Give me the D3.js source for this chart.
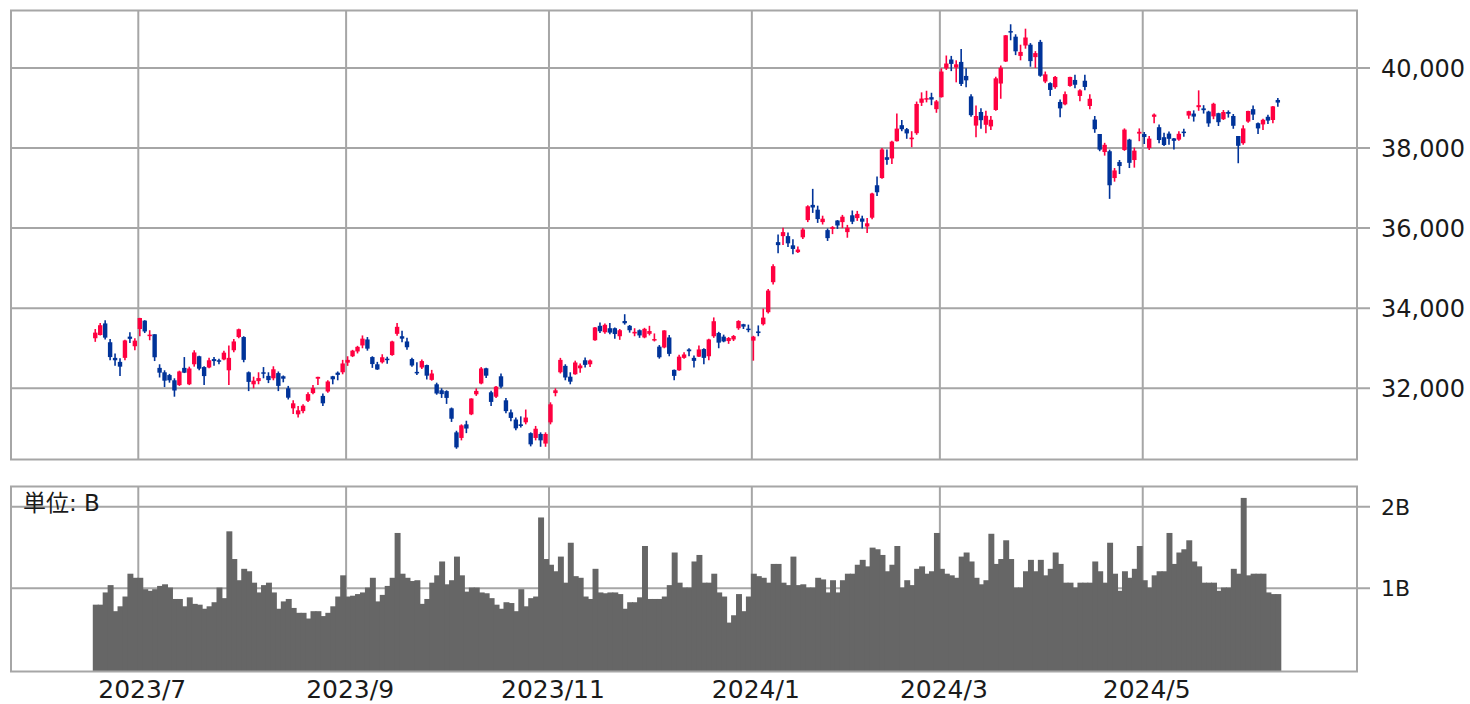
<!DOCTYPE html>
<html><head><meta charset="utf-8">
<script src="https://cdn.jsdelivr.net/npm/d3@7"></script>
<style>html,body{margin:0;padding:0;background:#fff;}svg{display:block}</style>
</head><body>
<svg id="chart" width="1470" height="704"></svg>
<script>
const dates = [
"2023-06-20","2023-06-21","2023-06-22","2023-06-23","2023-06-26","2023-06-27","2023-06-28","2023-06-29","2023-06-30",
"2023-07-03","2023-07-04","2023-07-05","2023-07-06","2023-07-07","2023-07-10","2023-07-11","2023-07-12","2023-07-13","2023-07-14","2023-07-18","2023-07-19","2023-07-20","2023-07-21","2023-07-24","2023-07-25","2023-07-26","2023-07-27","2023-07-28","2023-07-31",
"2023-08-01","2023-08-02","2023-08-03","2023-08-04","2023-08-07","2023-08-08","2023-08-09","2023-08-10","2023-08-14","2023-08-15","2023-08-16","2023-08-17","2023-08-18","2023-08-21","2023-08-22","2023-08-23","2023-08-24","2023-08-25","2023-08-28","2023-08-29","2023-08-30","2023-08-31",
"2023-09-01","2023-09-04","2023-09-05","2023-09-06","2023-09-07","2023-09-08","2023-09-11","2023-09-12","2023-09-13","2023-09-14","2023-09-15","2023-09-19","2023-09-20","2023-09-21","2023-09-22","2023-09-25","2023-09-26","2023-09-27","2023-09-28","2023-09-29",
"2023-10-02","2023-10-03","2023-10-04","2023-10-05","2023-10-06","2023-10-10","2023-10-11","2023-10-12","2023-10-13","2023-10-16","2023-10-17","2023-10-18","2023-10-19","2023-10-20","2023-10-23","2023-10-24","2023-10-25","2023-10-26","2023-10-27","2023-10-30","2023-10-31",
"2023-11-01","2023-11-02","2023-11-06","2023-11-07","2023-11-08","2023-11-09","2023-11-10","2023-11-13","2023-11-14","2023-11-15","2023-11-16","2023-11-17","2023-11-20","2023-11-21","2023-11-22","2023-11-24","2023-11-27","2023-11-28","2023-11-29","2023-11-30",
"2023-12-01","2023-12-04","2023-12-05","2023-12-06","2023-12-07","2023-12-08","2023-12-11","2023-12-12","2023-12-13","2023-12-14","2023-12-15","2023-12-18","2023-12-19","2023-12-20","2023-12-21","2023-12-22","2023-12-25","2023-12-26","2023-12-27","2023-12-28","2023-12-29",
"2024-01-04","2024-01-05","2024-01-09","2024-01-10","2024-01-11","2024-01-12","2024-01-15","2024-01-16","2024-01-17","2024-01-18","2024-01-19","2024-01-22","2024-01-23","2024-01-24","2024-01-25","2024-01-26","2024-01-29","2024-01-30","2024-01-31",
"2024-02-01","2024-02-02","2024-02-05","2024-02-06","2024-02-07","2024-02-08","2024-02-09","2024-02-13","2024-02-14","2024-02-15","2024-02-16","2024-02-19","2024-02-20","2024-02-21","2024-02-22","2024-02-26","2024-02-27","2024-02-28","2024-02-29",
"2024-03-01","2024-03-04","2024-03-05","2024-03-06","2024-03-07","2024-03-08","2024-03-11","2024-03-12","2024-03-13","2024-03-14","2024-03-15","2024-03-18","2024-03-19","2024-03-21","2024-03-22","2024-03-25","2024-03-26","2024-03-27","2024-03-28","2024-03-29",
"2024-04-01","2024-04-02","2024-04-03","2024-04-04","2024-04-05","2024-04-08","2024-04-09","2024-04-10","2024-04-11","2024-04-12","2024-04-15","2024-04-16","2024-04-17","2024-04-18","2024-04-19","2024-04-22","2024-04-23","2024-04-24","2024-04-25","2024-04-26","2024-04-30",
"2024-05-01","2024-05-02","2024-05-07","2024-05-08","2024-05-09","2024-05-10","2024-05-13","2024-05-14","2024-05-15","2024-05-16","2024-05-17","2024-05-20","2024-05-21","2024-05-22","2024-05-23","2024-05-24","2024-05-27","2024-05-28","2024-05-29","2024-05-30","2024-05-31",
"2024-06-03","2024-06-04","2024-06-05","2024-06-06","2024-06-07","2024-06-10","2024-06-11"];

const open = [
33250,33330,33620,33150,32760,32660,32760,33290,33050,
33480,33690,33310,33350,32510,32400,32330,32200,32080,32510,32100,32600,32800,32530,32520,32730,32700,32720,32450,32950,
33280,33280,32400,32100,32180,32400,32310,32250,32380,32300,32000,31500,31350,31430,31690,31880,32240,31810,31920,32300,32390,32400,
32640,32800,32920,33070,33220,32780,32600,32650,32740,32830,33360,33300,33170,32730,32410,32520,32580,32210,32100,31950,
31930,31500,30900,30760,31100,31350,31850,32120,32500,31900,31790,32300,31700,31400,31220,31100,31150,30880,30760,30860,30620,
31150,31880,32400,32560,32290,32350,32500,32700,32600,33200,33560,33400,33500,33500,33300,33680,33560,33370,33450,33270,
33360,33200,33040,33020,33270,32460,32450,32760,32970,32760,32790,32980,32800,33300,33380,33290,33180,33220,33500,33600,33490,
33190,33420,33600,33900,34650,35650,35800,35800,35570,35400,35770,36200,36580,36460,36150,35950,35980,36190,36150,
35900,36320,36250,36240,36040,36260,37070,37250,37770,37740,38170,38570,38470,38220,38370,39130,39240,39270,38970,
39270,39990,40210,40010,40150,39800,39290,38560,38900,38580,38540,38950,39610,40160,40920,40780,40300,40560,40580,40270,
40650,39660,39620,39520,39150,39090,39550,39700,39300,39680,39050,38710,38350,37900,37920,37250,37650,37950,38210,37700,38360,
38350,38000,38780,38520,38270,38360,38240,38210,38410,38810,38860,39020,38990,38910,38790,38870,38720,38900,38800,38300,38120,
38660,38970,38620,38590,38780,38700,39200];

const high = [
33480,33630,33700,33230,32870,32750,33210,33400,33250,
33760,33700,33450,33350,32600,32450,32360,32250,32440,32780,32540,32950,32810,32550,32760,32780,32740,32940,33070,33230,
33490,33300,32420,32290,32400,32530,32400,32550,32420,32320,32060,31700,31560,31600,31900,32080,32290,31870,32200,32310,32420,32710,
32800,32960,33060,33320,33280,32800,32660,32850,32790,33190,33630,33440,33260,32760,32650,32720,32590,32460,32140,32000,
31950,31520,30940,31100,31190,31750,32000,32530,32510,31940,32060,32370,31760,31470,31270,31300,31470,30900,31060,30900,30900,
31650,32000,32760,32600,32400,32690,32620,32770,32720,33530,33640,33620,33630,33520,33480,33850,33580,33500,33470,33510,
33560,33370,33080,33450,33330,32470,32840,32900,33000,32820,33070,33000,33240,33770,33410,33340,33280,33330,33700,33610,33590,
33310,33570,33990,34480,35100,35840,36010,35890,35720,35540,36000,36570,36980,36560,36310,35990,36050,36200,36330,
36080,36440,36430,36310,36250,36880,37290,38000,37960,38180,38860,38700,38500,38420,39160,39390,39430,39380,39200,
39990,40310,40300,40190,40470,39990,39340,39060,38990,38930,38800,39780,40060,40820,41090,40840,40580,40980,40620,40420,
40700,39910,39640,39800,39210,39410,39780,39830,39470,39830,39340,38800,38350,38130,37960,37500,37700,38490,38230,38010,38490,
38400,38300,38860,38590,38380,38410,38250,38420,38480,38930,38940,39440,39070,38930,39130,38880,38950,38940,38850,38300,38570,
38930,39060,38640,38730,38830,39050,39250];

const low = [
33160,33320,33220,32700,32560,32310,32700,33130,32950,
33300,33380,33200,32680,32270,32030,32140,31790,32060,32380,32080,32540,32450,32080,32500,32560,32600,32700,32080,32900,
33250,32650,31930,32000,32100,32250,32130,32200,31930,32150,31720,31360,31270,31380,31660,31850,32080,31560,31890,32100,32200,32350,
32560,32780,32870,33000,32940,32510,32460,32620,32610,32810,33310,33150,32960,32540,32330,32480,32220,32190,31840,31760,
31610,31160,30490,30700,30880,31330,31810,32100,32260,31560,31760,32000,31380,31180,30950,31020,31100,30550,30700,30540,30540,
31100,31800,32370,32200,32100,32340,32390,32520,32530,33190,33380,33360,33350,33240,33210,33590,33390,33300,33260,33250,
33320,33170,32740,33000,32800,32200,32440,32740,32800,32520,32780,32600,32700,33260,33000,33150,33110,33180,33460,33480,33400,
32690,33300,33570,33870,34590,35370,35580,35530,35350,35380,35730,36150,36380,36130,36090,35680,35850,35980,36000,
35760,36100,36180,35990,35880,36220,36800,37230,37580,37600,38160,38420,38230,38020,38330,39050,39140,39070,38880,
39260,39950,39920,39640,39550,39520,38780,38270,38480,38370,38450,38930,39230,40150,40690,40320,40190,40480,40030,40000,
39780,39620,39300,39480,38770,39070,39530,39490,39170,39440,38970,38380,37920,37810,36730,37160,37350,37930,37500,37510,38170,
38100,37950,38620,38120,38050,38080,37960,38180,38280,38730,38660,38930,38860,38530,38720,38550,38700,38760,38480,37620,38080,
38630,38700,38350,38450,38600,38620,39030];

const close = [
33390,33575,33265,32780,32700,32540,33195,33235,33190,
33755,33420,33340,32775,32390,32190,32200,31945,32420,32390,32495,32895,32490,32305,32700,32680,32670,32890,32760,33170,
33475,32710,32160,32190,32255,32375,32205,32475,32060,32240,31765,31625,31450,31565,31855,32010,32285,31625,32170,32225,32335,32620,
32710,32940,33035,33240,32990,32605,32470,32775,32705,33170,33535,33240,33025,32570,32400,32680,32315,32370,31870,31855,
31760,31240,30525,31075,30995,31745,31935,32495,32315,31660,32040,32040,31430,31260,31000,31060,31270,30600,30990,30700,30860,
31600,31950,32710,32270,32165,32645,32570,32585,32695,33520,33425,33585,33390,33355,33450,33625,33450,33410,33320,33485,
33430,33230,32775,33445,32860,32310,32790,32845,32925,32685,32970,32760,33220,33675,33140,33170,33255,33305,33680,33540,33465,
33290,33380,33765,34440,35050,35575,35900,35620,35480,35465,35965,36545,36515,36225,36235,35750,36025,36065,36285,
36010,36160,36355,36160,36120,36865,36895,37965,37705,38160,38485,38470,38365,38260,39100,39235,39245,39210,39165,
39910,40110,40100,40090,39600,39690,38820,38800,38695,38805,38705,39740,40005,40815,40890,40415,40400,40760,40170,40370,
39805,39840,39450,39775,38990,39345,39775,39580,39440,39525,39230,38470,37960,38080,37070,37440,37550,38460,37630,37935,38405,
38275,38235,38835,38200,38075,38230,38180,38355,38385,38920,38785,39070,38945,38615,39105,38645,38900,38855,38555,38055,38490,
38925,38835,38490,38705,38685,39040,39135];

// trading volume, billions of shares
const volume = [
0.80,0.80,0.95,1.04,0.72,0.78,0.90,1.18,1.13,
1.13,0.99,0.97,0.99,1.03,1.05,1.01,0.87,0.87,0.78,0.89,0.81,0.80,0.75,0.78,0.83,1.01,0.88,1.70,1.36,
1.10,1.24,1.21,1.07,0.95,1.04,1.07,0.95,0.75,0.84,0.87,0.76,0.70,0.70,0.63,0.72,0.72,0.66,0.70,0.78,0.90,1.16,
0.90,0.91,0.93,0.95,1.01,1.13,0.84,0.92,1.03,1.13,1.68,1.18,1.13,1.09,1.10,0.81,0.87,1.07,1.16,1.33,
1.05,1.10,1.39,1.16,0.96,1.01,1.01,0.95,0.94,0.88,0.80,0.75,0.83,0.82,0.72,0.99,0.78,0.88,0.90,1.87,1.36,
1.29,1.21,1.39,1.07,1.56,1.15,1.13,0.90,0.87,1.24,0.95,0.94,0.95,0.95,0.93,0.75,0.83,0.83,0.89,1.52,
0.87,0.87,0.87,0.90,1.04,1.44,1.07,1.01,1.01,1.33,1.41,1.07,1.07,1.18,0.95,0.90,0.58,0.67,0.93,0.72,0.90,
1.18,1.15,1.13,1.07,1.30,1.30,1.07,1.04,1.39,1.04,1.05,1.01,1.01,1.13,1.11,0.95,1.10,0.95,1.10,
1.18,1.18,1.29,1.35,1.27,1.50,1.48,1.41,1.21,1.29,1.52,1.01,1.10,1.04,1.24,1.27,1.18,1.21,1.68,
1.24,1.18,1.16,1.13,1.39,1.44,1.33,1.13,1.05,1.10,1.67,1.30,1.36,1.59,1.36,1.01,1.01,1.21,1.35,1.21,
1.35,1.16,1.24,1.44,1.30,1.07,1.07,1.01,1.07,1.07,1.07,1.33,1.21,1.07,1.56,1.18,0.97,1.21,1.13,1.24,1.52,
1.10,1.01,1.16,1.21,1.21,1.68,1.30,1.44,1.48,1.59,1.33,1.27,1.07,1.07,1.07,0.97,1.01,1.01,1.24,1.18,2.11,
1.16,1.18,1.18,1.18,0.95,0.93,0.93];

const priceTicks = [32000, 34000, 36000, 38000, 40000];
const volumeTicks = [1, 2];
const volumeTickLabels = ["1B", "2B"];
const monthTickDates = ["2023-07-03","2023-09-01","2023-11-01","2024-01-04","2024-03-01","2024-05-01"];
const monthTickLabels = ["2023/7","2023/9","2023/11","2024/1","2024/3","2024/5"];
const volumeUnitLabel = "単位: B";

const L = 11, R = 1357;
const mainTop = 10.5, mainBottom = 459.5, volTop = 486.5, volBottom = 671.5;
const gridColor = "#a6a6a6", upColor = "#ff0040", downColor = "#003399", volColor = "#666666", textColor = "#1a1a1a";
const font = "'DejaVu Sans', 'Noto Sans CJK JP', sans-serif";

const svg = d3.select("#chart");
const idx = d3.range(dates.length);
const x = d3.scaleLinear().domain([-17.03, 255.0]).range([L, R]);
const step = x(1) - x(0);
const y = d3.scaleLinear().domain([30222, 41434]).range([mainBottom, mainTop]);
const yv = d3.scaleLinear().domain([-0.02, 2.25]).range([volBottom, volTop]);
const monthIdx = monthTickDates.map(d => dates.indexOf(d));

// grids
const g = svg.append("g");
g.selectAll("line.py").data(priceTicks).join("line")
  .attr("x1", L).attr("x2", R + 13).attr("y1", d => y(d)).attr("y2", d => y(d))
  .attr("stroke", gridColor).attr("stroke-width", 2);
g.selectAll("line.vy").data(volumeTicks).join("line").attr("class","vy")
  .attr("x1", L).attr("x2", R + 13).attr("y1", d => yv(d)).attr("y2", d => yv(d))
  .attr("stroke", gridColor).attr("stroke-width", 2);
[[mainTop, mainBottom], [volTop, volBottom]].forEach(([t, b]) => {
  g.append("g").selectAll("line").data(monthIdx).join("line")
    .attr("x1", d => x(d) - 1.5).attr("x2", d => x(d) - 1.5)
    .attr("y1", t).attr("y2", b)
    .attr("stroke", gridColor).attr("stroke-width", 2);
});

// volume bars
svg.append("g").selectAll("rect").data(idx).join("rect")
  .attr("x", i => x(i) - step / 2)
  .attr("width", step + 1)
  .attr("y", i => yv(volume[i]))
  .attr("height", i => yv(-0.02) - yv(volume[i]))
  .attr("fill", volColor);

// candles
const cg = svg.append("g");
const col = i => close[i] >= open[i] ? upColor : downColor;
cg.selectAll("line").data(idx).join("line")
  .attr("x1", i => x(i)).attr("x2", i => x(i))
  .attr("y1", i => y(high[i])).attr("y2", i => y(low[i]))
  .attr("stroke", col).attr("stroke-width", 1.6);
cg.selectAll("rect").data(idx).join("rect")
  .attr("x", i => x(i) - 2.2).attr("width", 4.4)
  .attr("y", i => y(Math.max(open[i], close[i])))
  .attr("height", i => Math.max(1.5, Math.abs(y(open[i]) - y(close[i]))))
  .attr("fill", col);

// panel borders
[[mainTop, mainBottom], [volTop, volBottom]].forEach(([t, b]) => {
  svg.append("rect").attr("x", L).attr("y", t).attr("width", R - L).attr("height", b - t)
    .attr("fill", "none").attr("stroke", gridColor).attr("stroke-width", 2);
});

// labels
const fmt = d3.format(",");
svg.append("g").selectAll("text").data(priceTicks).join("text")
  .attr("x", R + 24).attr("y", d => y(d)).attr("dy", "0.36em")
  .attr("font-family", font).attr("font-size", 24).attr("fill", textColor)
  .text(d => fmt(d));
svg.append("g").selectAll("text").data(volumeTicks).join("text")
  .attr("x", R + 24).attr("y", d => yv(d)).attr("dy", "0.36em")
  .attr("font-family", font).attr("font-size", 22).attr("fill", textColor)
  .text((d, k) => volumeTickLabels[k]);
svg.append("g").selectAll("text").data(monthIdx).join("text")
  .attr("x", d => x(d) + 2.5).attr("y", 697.5).attr("text-anchor", "middle")
  .attr("font-family", font).attr("font-size", 25).attr("fill", textColor)
  .text((d, k) => monthTickLabels[k]);
svg.append("text").attr("x", 23).attr("y", 511)
  .attr("font-family", font).attr("font-size", 23).attr("fill", textColor)
  .text(volumeUnitLabel);
</script>
</body></html>
